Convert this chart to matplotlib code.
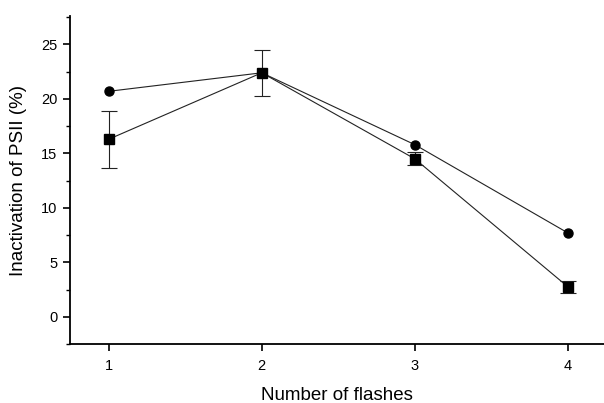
import matplotlib
matplotlib.use('Agg')
import matplotlib.pyplot as plt
from matplotlib.ticker import MultipleLocator

plt.rcParams['font.family'] = ['Liberation Sans', 'DejaVu Sans']

# data
flashes   = [1, 2, 3, 4]
circleVal = [20.7, 22.4, 15.8, 7.7]
squareVal = [16.3, 22.4, 14.5, 2.75]
squareErr = [2.6, 2.1, 0.6, 0.57]

fig = plt.figure(figsize=(6.04, 4.03), dpi=100)
ax = fig.add_axes([0.116, 0.146, 0.884, 0.814])

ax.plot(flashes, circleVal, color='#222222', lw=0.8, marker='o', ms=6.5,
        mfc='black', mec='black', zorder=3)
ax.errorbar(flashes, squareVal, yerr=squareErr, color='#222222', lw=0.8,
            marker='s', ms=6.5, mfc='black', mec='black', capsize=6,
            elinewidth=0.8, capthick=0.8, zorder=3)

ax.set_xlim(0.748, 4.235)
ax.set_ylim(-2.5, 27.6)
ax.set_xticks(flashes)
ax.yaxis.set_major_locator(MultipleLocator(5))
ax.yaxis.set_minor_locator(MultipleLocator(2.5))
ax.set_yticks([0, 5, 10, 15, 20, 25])

for s in ['top', 'right']:
    ax.spines[s].set_visible(False)
for s in ['left', 'bottom']:
    ax.spines[s].set_linewidth(1.3)

ax.tick_params(axis='both', which='major', direction='out', length=5, width=1.2,
               labelsize=10.5, pad=4)
ax.tick_params(axis='y', which='minor', direction='out', length=3, width=1.0)
ax.tick_params(axis='x', pad=6)

ax.set_xlabel('Number of flashes', fontsize=13.5, labelpad=10)
ax.set_ylabel('Inactivation of PSII (%)', fontsize=13.5, labelpad=10)

fig.savefig('out.png', dpi=100)
